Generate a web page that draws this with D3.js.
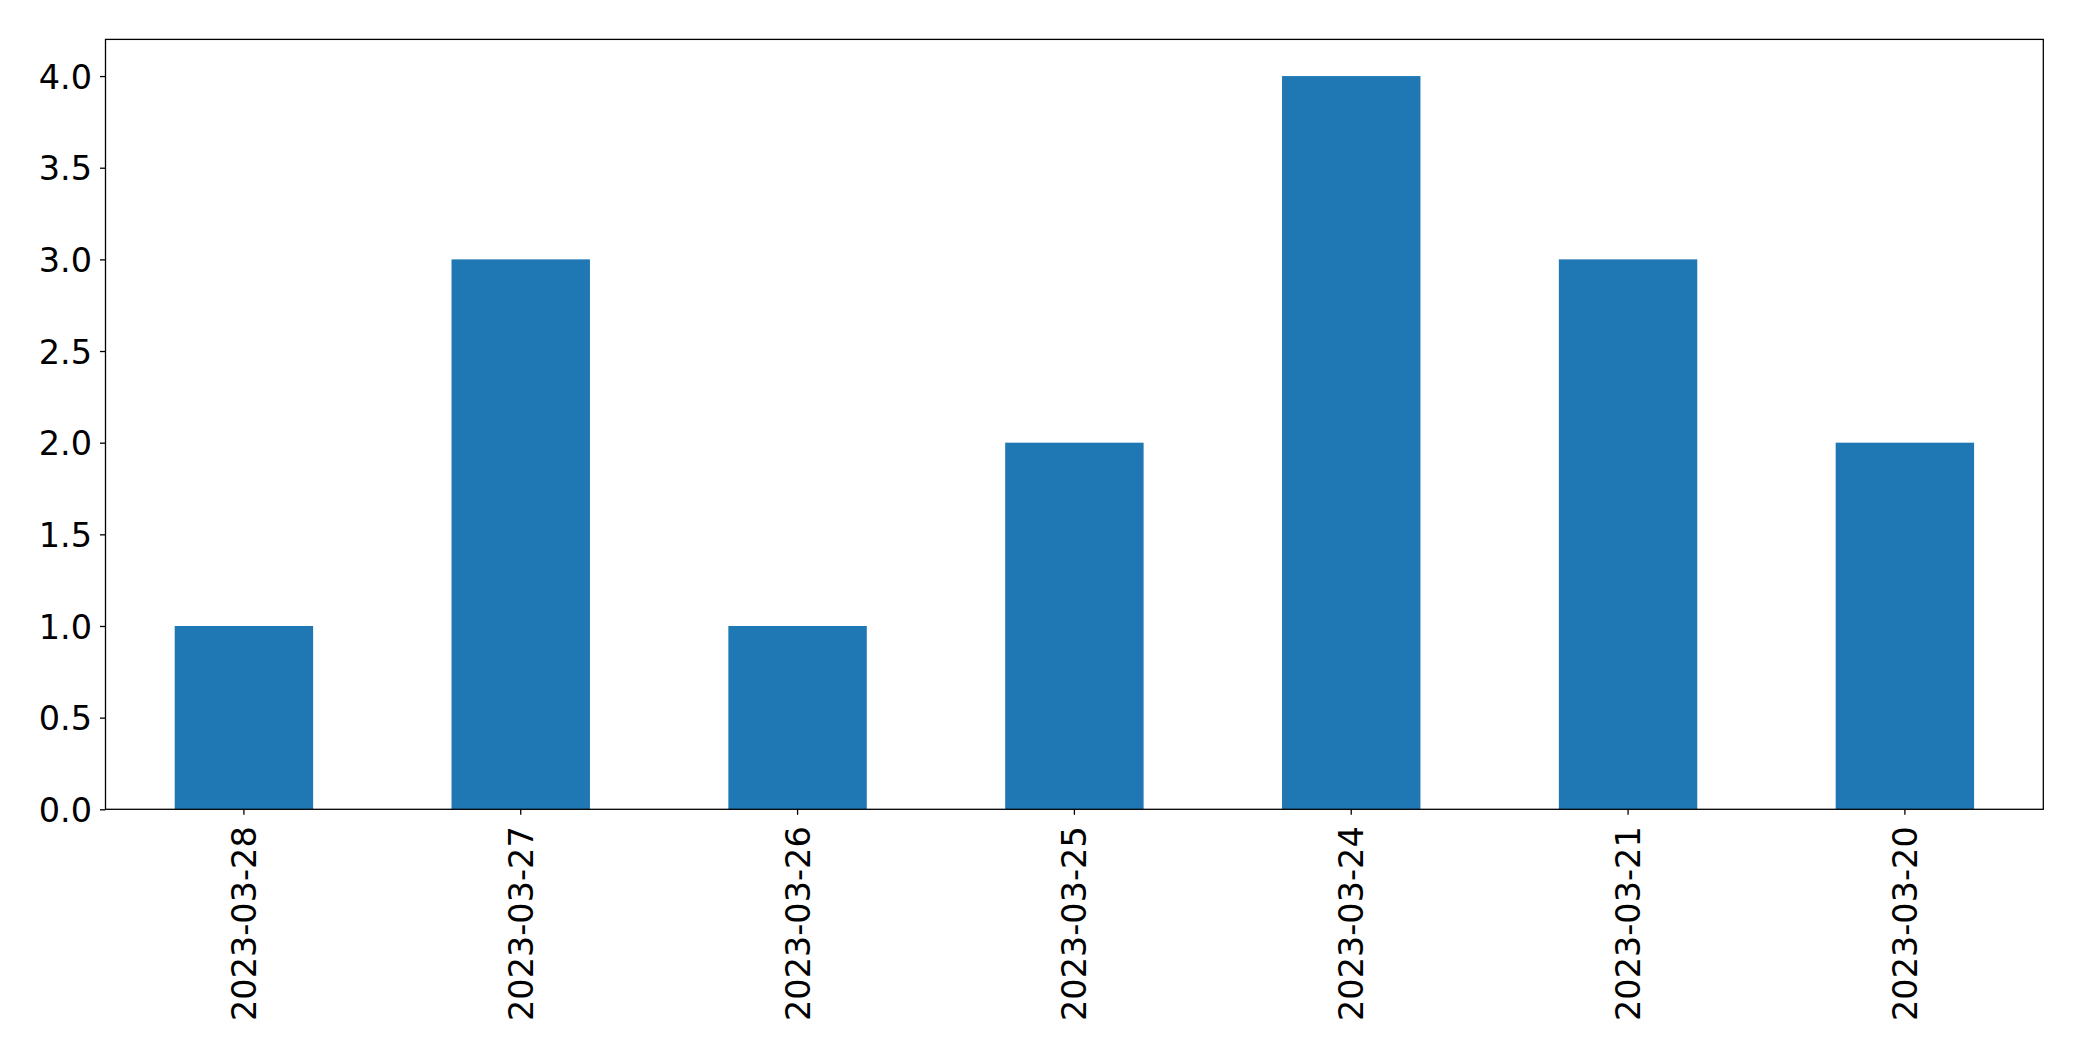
<!DOCTYPE html>
<html>
<head>
<meta charset="utf-8">
<script src="https://cdn.jsdelivr.net/npm/d3@7"></script>
<style>
html,body{margin:0;padding:0;background:#fff;}
svg{display:block;}
text{font-family:"DejaVu Sans",sans-serif;}
</style>
</head>
<body>
<svg id="chart" width="2082" height="1061"></svg>
<script>
const categories = ["2023-03-28","2023-03-27","2023-03-26","2023-03-25","2023-03-24","2023-03-21","2023-03-20"];
const values = [1, 3, 1, 2, 4, 3, 2];
const yTicks = [0, 0.5, 1.0, 1.5, 2.0, 2.5, 3.0, 3.5, 4.0];

const W = 2082, H = 1061;
const m = {left: 105.5, right: 2043.3, top: 39.4, bottom: 809.3};
const svg = d3.select("#chart");

const x = d3.scaleBand().domain(categories).range([m.left, m.right]).paddingInner(0.5).paddingOuter(0.25);
const y = d3.scaleLinear().domain([0, 4.2]).range([m.bottom, m.top]);

svg.append("g").selectAll("rect").data(categories).join("rect")
  .attr("x", d => x(d))
  .attr("width", x.bandwidth())
  .attr("y", (d,i) => y(values[i]))
  .attr("height", (d,i) => y(0) - y(values[i]))
  .attr("fill", "#1f77b4");

const fs = "33.5px";
const yAxis = svg.append("g").attr("transform", `translate(${m.left},0)`)
  .call(d3.axisLeft(y).tickValues(yTicks).tickFormat(d3.format(".1f")).tickSize(5.5).tickPadding(8));
yAxis.select(".domain").remove();
yAxis.selectAll("line").attr("stroke", "#000").attr("stroke-width", 1.3);
yAxis.selectAll("text").attr("font-size", fs).attr("fill", "#000")
  .attr("font-family", "DejaVu Sans").attr("dy", "0.36em");

const xAxis = svg.append("g").attr("transform", `translate(0,${m.bottom})`)
  .call(d3.axisBottom(x).tickSize(5.5).tickPadding(0));
xAxis.select(".domain").remove();
xAxis.selectAll("line").attr("stroke", "#000").attr("stroke-width", 1.3);
xAxis.selectAll("text")
  .attr("font-size", fs).attr("fill", "#000").attr("font-family", "DejaVu Sans")
  .attr("text-anchor", "end")
  .attr("transform", "translate(0,17) rotate(-90)")
  .attr("x", 0).attr("y", 0).attr("dy", "0.36em");

svg.append("rect")
  .attr("x", m.left).attr("y", m.top)
  .attr("width", m.right - m.left).attr("height", m.bottom - m.top)
  .attr("fill", "none").attr("stroke", "#000").attr("stroke-width", 1.3);
</script>
</body>
</html>
